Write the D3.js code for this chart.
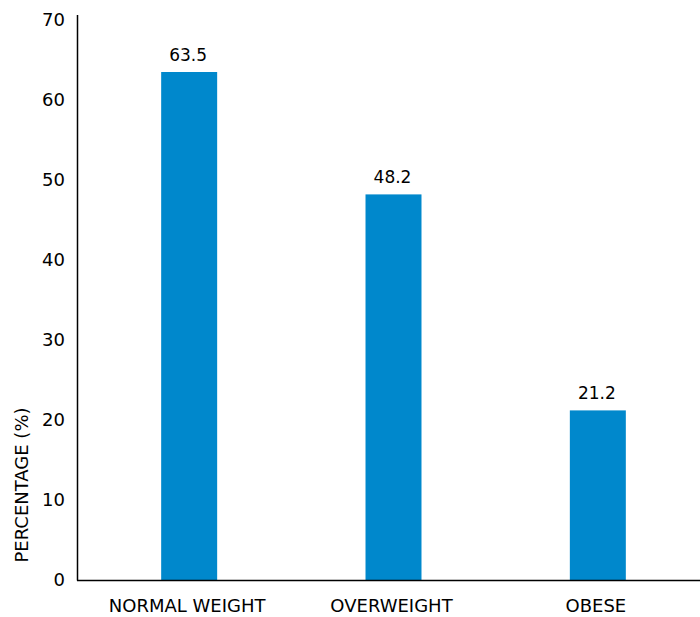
<!DOCTYPE html>
<html><head><meta charset="utf-8">
<script src="https://cdnjs.cloudflare.com/ajax/libs/d3/7.8.5/d3.min.js"></script>
<style>body{margin:0;background:#fff;} text{font-family:"DejaVu Sans",sans-serif;}</style>
</head><body>
<svg id="c" width="700" height="617"></svg>
<script>
const categories = ["NORMAL WEIGHT", "OVERWEIGHT", "OBESE"];
const values = [63.5, 48.2, 21.2];
const yTicks = [0, 10, 20, 30, 40, 50, 60, 70];
const yTitle = "PERCENTAGE (%)";

const FONT = '"DejaVu Sans",sans-serif';
const svg = d3.select("#c");
const x = d3.scaleBand().domain(categories).range([87, 700]).paddingInner(0.726).paddingOuter(0.363);
const y = d3.scaleLinear().domain([0, 70]).range([580, 20]);

// bars
svg.selectAll("rect.bar").data(values).join("rect")
  .attr("class", "bar")
  .attr("x", (d, i) => x(categories[i]))
  .attr("width", x.bandwidth())
  .attr("y", d => y(d))
  .attr("height", d => y(0) - y(d))
  .attr("fill", "#0088cc");

// value labels
svg.selectAll("text.val").data(values).join("text")
  .attr("class", "val")
  .attr("x", (d, i) => x(categories[i]) + x.bandwidth() / 2 - 1)
  .attr("y", d => y(d) - 11)
  .attr("text-anchor", "middle")
  .attr("font-size", 17)
  .attr("fill", "#000")
  .text(d => d.toFixed(1));

// y axis
const yAxis = d3.axisLeft(y).tickValues(yTicks).tickSize(0).tickPadding(13);
const gy = svg.append("g").attr("transform", "translate(78,0)").call(yAxis);
gy.select(".domain").remove();
gy.selectAll("text").attr("font-size", 18).attr("fill", "#000").style("font-family", FONT);
svg.append("line").attr("x1", 77.5).attr("x2", 77.5).attr("y1", 15).attr("y2", 580.5).attr("stroke", "#000").attr("stroke-width", 1.5);

// x axis
const xAxis = d3.axisBottom(x).tickSize(0);
const gx = svg.append("g").attr("transform", "translate(-2,580)").call(xAxis);
gx.select(".domain").remove();
gx.selectAll("text").attr("y", 32).attr("dy", 0).attr("font-size", 18).attr("fill", "#000").style("font-family", FONT);
svg.append("line").attr("x1", 77).attr("x2", 700).attr("y1", 580.5).attr("y2", 580.5).attr("stroke", "#000").attr("stroke-width", 1.5);

// y title
svg.append("text")
  .attr("transform", "translate(28,485) rotate(-90)")
  .attr("text-anchor", "middle")
  .attr("font-size", 18)
  .attr("fill", "#000")
  .text(yTitle);
</script>
</body></html>
